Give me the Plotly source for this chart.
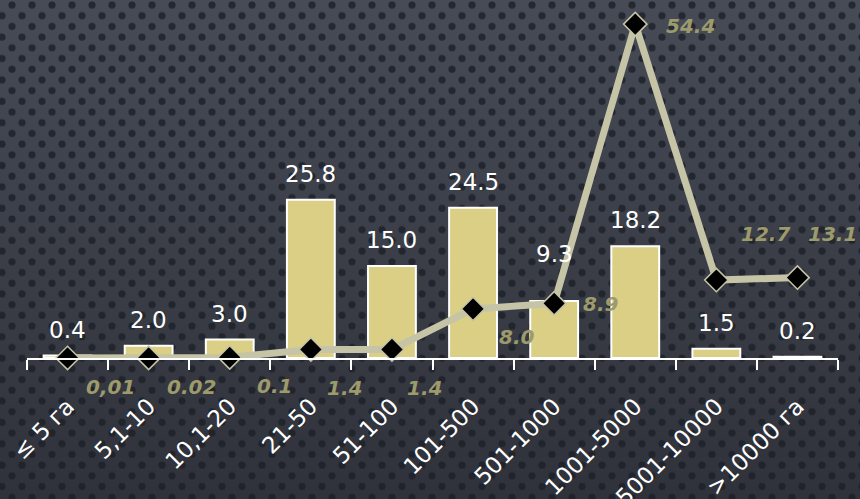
import plotly.graph_objects as go
import urllib.parse

categories = ["≤ 5 га", "5,1-10", "10,1-20", "21-50", "51-100", "101-500",
              "501-1000", "1001-5000", "5001-10000", ">10000 га"]
bar_values = [0.4, 2.0, 3.0, 25.8, 15.0, 24.5, 9.3, 18.2, 1.5, 0.2]
bar_labels = ["0.4", "2.0", "3.0", "25.8", "15.0", "24.5", "9.3", "18.2", "1.5", "0.2"]
line_values = [0.01, 0.02, 0.1, 1.4, 1.4, 8.0, 8.9, 54.4, 12.7, 13.1]
line_labels = ["0,01", "0.02", "0.1", "1.4", "1.4", "8.0", "8.9", "54.4", "12.7", "13.1"]

# label offsets (pixels) — styling only
bar_label_extra = [0, 0, 0, 0, 0, 0, 21, 0, 0, 0]
line_dx = [43, 43, 45, 34, 33, 44, 47, 55, 49, 35]
line_dy = [-29, -29, -29, -39, -39, -28, -1, -2, 46, 44]

W, H = 860, 499
ML, MR, MT, MB = 27, 22, 10, 141

BAR_COLOR = "#dacf85"
LINE_COLOR = "#c6c4a6"
LINE_LABEL_COLOR = "#9d9a6c"
FONT = "DejaVu Sans"

fig = go.Figure()
fig.add_trace(go.Bar(
    x=categories, y=bar_values,
    marker=dict(color=BAR_COLOR, line=dict(color="white", width=2)),
    width=0.59, showlegend=False, hoverinfo="skip",
))
fig.add_trace(go.Scatter(
    x=categories, y=line_values, mode="lines+markers",
    line=dict(color=LINE_COLOR, width=7),
    marker=dict(symbol="diamond", size=18, color="black",
                line=dict(color=LINE_COLOR, width=1.5)),
    showlegend=False, cliponaxis=False, hoverinfo="skip",
))

annotations = []
for c, v, t, ex in zip(categories, bar_values, bar_labels, bar_label_extra):
    annotations.append(dict(x=c, y=v, text=t, showarrow=False, xanchor="center",
                            yanchor="middle", yshift=26 + ex,
                            font=dict(family=FONT, size=23, color="white")))
for c, v, t, dx, dy in zip(categories, line_values, line_labels, line_dx, line_dy):
    annotations.append(dict(x=c, y=v, text="<b><i>" + t + "</i></b>", showarrow=False,
                            xanchor="center", yanchor="middle", xshift=dx, yshift=dy,
                            font=dict(family=FONT, size=20, color=LINE_LABEL_COLOR)))

# textured background (decoration)
svg = (
    "<svg xmlns='http://www.w3.org/2000/svg' width='860' height='499'>"
    "<defs>"
    "<linearGradient id='g' x1='0' y1='0' x2='0' y2='1'>"
    "<stop offset='0' stop-color='#474b56'/><stop offset='1' stop-color='#2f323a'/>"
    "</linearGradient>"
    "<pattern id='p' width='20' height='21.4' patternUnits='userSpaceOnUse'>"
    "<circle cx='12' cy='5' r='3.6' fill='#1c1f27' fill-opacity='0.8'/>"
    "<circle cx='2' cy='15.7' r='3.6' fill='#1c1f27' fill-opacity='0.8'/>"
    "<circle cx='22' cy='15.7' r='3.6' fill='#1c1f27' fill-opacity='0.8'/>"
    "</pattern>"
    "</defs>"
    "<rect width='860' height='499' fill='url(#g)'/>"
    "<rect width='860' height='499' fill='url(#p)'/>"
    "</svg>"
)
src = "data:image/svg+xml;charset=utf-8," + urllib.parse.quote(svg)
pw, ph = W - ML - MR, H - MT - MB

fig.update_layout(
    width=W, height=H,
    margin=dict(l=ML, r=MR, t=MT, b=MB, pad=0, autoexpand=False),
    paper_bgcolor="#3a3d46", plot_bgcolor="rgba(0,0,0,0)",
    annotations=annotations,
    images=[dict(source=src, xref="paper", yref="paper",
                 x=-ML / pw, y=1 + MT / ph, sizex=W / pw, sizey=H / ph,
                 sizing="stretch", xanchor="left", yanchor="top", layer="below")],
    xaxis=dict(
        type="category", showgrid=False, zeroline=False, automargin=False,
        showline=True, linecolor="white", linewidth=1.5,
        ticks="outside", tickson="boundaries", ticklen=10, tickcolor="white", tickwidth=1.5,
        tickangle=-45, tickfont=dict(family=FONT, size=23, color="white"),
        ticklabelstandoff=24, range=[-0.5, 9.5],
    ),
    yaxis=dict(range=[0, 56.7], visible=False, showgrid=False, zeroline=False,
               automargin=False),
)

fig.write_html("out.html", config={"displayModeBar": False},
               post_script="document.body.style.margin='0';document.body.style.overflow='hidden';")
